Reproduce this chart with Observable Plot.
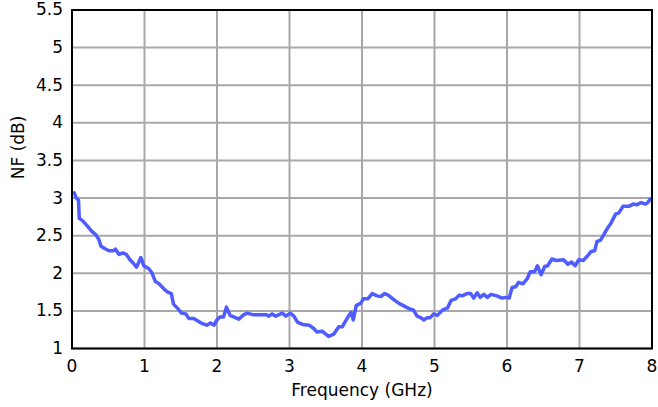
<!DOCTYPE html>
<html>
<head>
<meta charset="utf-8">
<script src="https://cdn.jsdelivr.net/npm/d3@7"></script>
<script src="https://cdn.jsdelivr.net/npm/@observablehq/plot@0.6"></script>
<style>
  html, body { margin: 0; padding: 0; background: #fff; }
</style>
</head>
<body>
<div id="chart"></div>
<script>
const freqGHz = [0.03,0.06,0.09,0.10,0.145,0.21,0.27,0.33,0.37,0.40,0.45,0.51,0.57,0.60,0.65,0.70,0.75,0.80,0.84,0.89,0.95,0.99,1.06,1.10,1.15,1.20,1.27,1.32,1.37,1.40,1.46,1.51,1.57,1.61,1.68,1.73,1.80,1.86,1.91,1.96,1.99,2.04,2.09,2.13,2.18,2.23,2.30,2.37,2.42,2.49,2.60,2.68,2.71,2.76,2.81,2.90,2.95,3.01,3.06,3.11,3.18,3.27,3.33,3.38,3.45,3.50,3.54,3.61,3.68,3.73,3.77,3.82,3.85,3.88,3.92,3.98,4.02,4.08,4.14,4.21,4.26,4.31,4.36,4.44,4.51,4.59,4.65,4.71,4.76,4.81,4.85,4.90,4.94,4.99,5.04,5.11,5.18,5.23,5.29,5.34,5.38,5.45,5.50,5.54,5.59,5.63,5.68,5.73,5.78,5.86,5.93,5.98,6.03,6.07,6.12,6.16,6.22,6.28,6.32,6.38,6.42,6.47,6.52,6.56,6.62,6.68,6.78,6.84,6.89,6.94,6.99,7.05,7.11,7.16,7.21,7.24,7.29,7.34,7.38,7.43,7.50,7.54,7.60,7.68,7.74,7.79,7.85,7.91,7.94,7.98];
const nfDB = [3.07,3.00,2.97,2.73,2.70,2.63,2.56,2.51,2.45,2.36,2.33,2.30,2.30,2.32,2.25,2.27,2.25,2.18,2.14,2.08,2.21,2.10,2.06,2.01,1.89,1.86,1.79,1.75,1.73,1.59,1.53,1.47,1.46,1.40,1.40,1.37,1.33,1.31,1.34,1.31,1.37,1.42,1.42,1.55,1.44,1.42,1.39,1.45,1.47,1.45,1.45,1.45,1.43,1.46,1.43,1.47,1.43,1.47,1.43,1.35,1.32,1.31,1.27,1.22,1.23,1.19,1.16,1.19,1.29,1.29,1.36,1.44,1.48,1.38,1.57,1.60,1.66,1.66,1.73,1.70,1.69,1.73,1.71,1.65,1.60,1.56,1.53,1.51,1.43,1.41,1.38,1.41,1.41,1.46,1.44,1.51,1.54,1.64,1.66,1.71,1.70,1.73,1.73,1.67,1.74,1.68,1.72,1.68,1.72,1.70,1.67,1.68,1.67,1.81,1.82,1.88,1.86,1.93,2.02,2.02,2.10,1.98,2.09,2.10,2.19,2.17,2.18,2.12,2.15,2.10,2.18,2.17,2.23,2.29,2.30,2.42,2.44,2.52,2.59,2.66,2.79,2.80,2.89,2.89,2.92,2.91,2.94,2.92,2.94,2.99];
const xTicks = [0,1,2,3,4,5,6,7,8];
const yTicks = [1,1.5,2,2.5,3,3.5,4,4.5,5,5.5];
const xTitle = ["Frequency (GHz)"];
const yTitle = ["NF (dB)"];

const data = freqGHz.map((f, i) => ({f, nf: nfDB[i]}));

const chart = Plot.plot({
  width: 658,
  height: 407,
  marginLeft: 71.5,
  marginRight: 6.5,
  marginTop: 9.5,
  marginBottom: 59,
  style: {fontFamily: "'DejaVu Sans', Verdana, sans-serif", fontSize: "17px", background: "#fff", color: "#000"},
  x: {domain: [0, 8]},
  y: {domain: [1, 5.5]},
  marks: [
    Plot.gridX(xTicks, {stroke: "#a8a8a8", strokeOpacity: 1, strokeWidth: 2}),
    Plot.gridY(yTicks, {stroke: "#a8a8a8", strokeOpacity: 1, strokeWidth: 2}),
    Plot.axisX({ticks: xTicks, tickSize: 0, tickPadding: 11, tickFormat: d => String(d), label: null, fontSize: 17}),
    Plot.axisY({ticks: yTicks, tickSize: 0, tickPadding: 9, tickFormat: d => String(d), label: null, fontSize: 17}),
    Plot.line(data, {x: "f", y: "nf", stroke: "#4f5cff", strokeWidth: 3.5, strokeLinejoin: "round"}),
    Plot.frame({stroke: "#000", strokeWidth: 2}),
    Plot.text(xTitle, {frameAnchor: "bottom", dy: 47, text: d => d, fontSize: 17, fill: "#000"}),
    Plot.text(yTitle, {frameAnchor: "left", dx: -53, rotate: -90, text: d => d, fontSize: 17, fill: "#000"})
  ]
});
document.getElementById("chart").appendChild(chart);
</script>
</body>
</html>
